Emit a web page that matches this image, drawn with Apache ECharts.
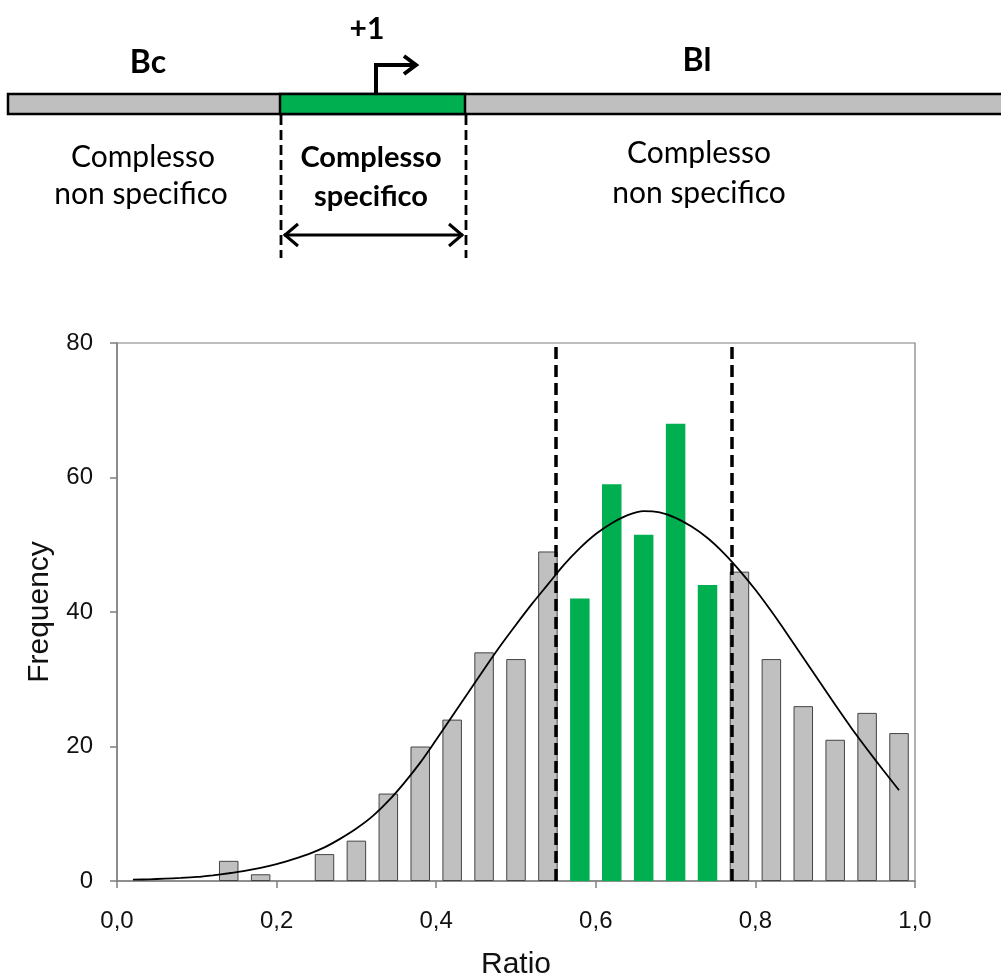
<!DOCTYPE html>
<html><head><meta charset="utf-8">
<script src="https://cdn.jsdelivr.net/npm/echarts@6/dist/echarts.min.js"></script>
<style>html,body{margin:0;padding:0;background:#fff}#c{width:1001px;height:975px}</style>
</head><body><div id="c"></div>
<script>
// Histogram bins (centre of each bin on the Ratio axis)
const grayCenters = [0.14,0.18,0.26,0.30,0.34,0.38,0.42,0.46,0.50,0.54,0.78,0.82,0.86,0.90,0.94,0.98];
const grayCounts  = [3,1,4,6,13,20,24,34,33,49,46,33,26,21,25,22];
const greenCenters = [0.58,0.62,0.66,0.70,0.74];
const greenCounts  = [42,59,51.5,68,44];
// Fitted curve, every 0.02
const curveX = [0.02,0.04,0.06,0.08,0.10,0.12,0.14,0.16,0.18,0.20,0.22,0.24,0.26,0.28,0.30,0.32,0.34,0.36,0.38,0.40,0.42,0.44,0.46,0.48,0.50,0.52,0.54,0.56,0.58,0.60,0.62,0.64,0.66,0.68,0.70,0.72,0.74,0.76,0.78,0.80,0.82,0.84,0.86,0.88,0.90,0.92,0.94,0.96,0.98];
const curveY = [0.2,0.25,0.35,0.45,0.6,0.85,1.15,1.5,1.95,2.5,3.2,4.0,5.0,6.3,7.8,9.6,11.9,14.6,17.6,21.0,24.5,28.0,31.5,34.9,38.1,41.2,44.1,47.0,49.5,51.6,53.2,54.4,55.0,54.8,54.0,52.7,51.0,48.8,46.2,43.3,40.1,36.7,33.2,29.7,26.2,22.8,19.6,16.5,13.5];
// Cut-offs of the specific complex region (dashed lines)
const cutoffs = [0.552, 0.768];
// Axis ticks
const xTickValues = [0, 0.2, 0.4, 0.6, 0.8, 1.0];
const xTickLabels = ['0,0','0,2','0,4','0,6','0,8','1,0'];
const yTickValues = [0, 20, 40, 60, 80];

const chart = echarts.init(document.getElementById('c'), null, {renderer:'canvas'});
const axisCol = '#7f7f7f';
const txtCol = '#111';
const F = 'Lato';

chart.setOption({
  animation: false,
  backgroundColor: '#fff',
  grid: {left: 117, right: 86, top: 343, bottom: 94, show: true, borderColor: axisCol, borderWidth: 1.2,
         containLabel: false, outerBoundsMode: 'none'},
  xAxis: {
    type: 'value', min: xTickValues[0], max: xTickValues[xTickValues.length-1], interval: 0.2,
    axisLine: {show: true, lineStyle: {color: axisCol, width: 1.5}},
    axisTick: {show: true, length: 7, lineStyle: {color: axisCol, width: 1.5}},
    splitLine: {show: false},
    axisLabel: {fontSize: 24, color: txtCol, fontFamily: 'Liberation Sans', margin: 28,
      formatter: v => { const i = xTickValues.findIndex(t => Math.abs(t - v) < 1e-6); return i >= 0 ? xTickLabels[i] : ''; }},
    name: 'Ratio', nameLocation: 'middle', nameGap: 69,
    nameTextStyle: {fontSize: 30, color: txtCol, fontFamily: 'Liberation Sans'}
  },
  yAxis: {
    type: 'value', min: yTickValues[0], max: yTickValues[yTickValues.length-1], interval: 20,
    axisLine: {show: true, lineStyle: {color: axisCol, width: 1.5}},
    axisTick: {show: true, length: 7, lineStyle: {color: axisCol, width: 1.5}},
    splitLine: {show: false},
    axisLabel: {fontSize: 24, color: txtCol, fontFamily: 'Liberation Sans', margin: 24},
    name: 'Frequency', nameLocation: 'middle', nameGap: 62, nameRotate: 90,
    nameTextStyle: {fontSize: 30, color: txtCol, fontFamily: 'Liberation Sans'}
  },
  series: [
    {type: 'bar', name: 'non specifico', barWidth: 19.5, barGap: '-100%', z: 2,
     data: grayCenters.map((x, i) => [x, grayCounts[i]]),
     itemStyle: {color: '#c0c0c0', borderColor: '#444', borderWidth: 1}},
    {type: 'bar', name: 'specifico', barWidth: 19.5, barGap: '-100%', z: 2,
     data: greenCenters.map((x, i) => [x, greenCounts[i]]),
     itemStyle: {color: '#00b050'},
     markLine: {silent: true, symbol: 'none', label: {show: false}, z: 5,
       lineStyle: {color: '#000', width: 3.5, type: [12, 6]},
       data: cutoffs.map(v => ({xAxis: v}))}},
    {type: 'line', name: 'fit', smooth: 0.3, symbol: 'none', z: 4,
     data: curveX.map((x, i) => [x, curveY[i]]),
     lineStyle: {color: '#000', width: 1.8}}
  ],
  graphic: {elements: [
    {type: 'rect', shape: {x: 8, y: 94, width: 1000, height: 20}, style: {fill: '#bfbfbf', stroke: '#000', lineWidth: 2.5}},
    {type: 'rect', shape: {x: 280, y: 94, width: 185, height: 20}, style: {fill: '#00b050', stroke: '#000', lineWidth: 2.5}},
    {type: 'polyline', shape: {points: [[376, 93], [376, 65], [415, 65]]}, style: {stroke: '#000', lineWidth: 4, fill: null}},
    {type: 'polyline', shape: {points: [[404, 56], [416, 65], [404, 74]]}, style: {stroke: '#000', lineWidth: 4, fill: null}},
    {type: 'line', shape: {x1: 281, y1: 115, x2: 281, y2: 258}, style: {stroke: '#000', lineWidth: 2.8, lineDash: [10, 5]}},
    {type: 'line', shape: {x1: 466, y1: 115, x2: 466, y2: 258}, style: {stroke: '#000', lineWidth: 2.8, lineDash: [10, 5]}},
    {type: 'line', shape: {x1: 284, y1: 235, x2: 463, y2: 235}, style: {stroke: '#000', lineWidth: 3}},
    {type: 'polyline', shape: {points: [[298, 224], [285, 235], [298, 246]]}, style: {stroke: '#000', lineWidth: 3, fill: null}},
    {type: 'polyline', shape: {points: [[449, 224], [462, 235], [449, 246]]}, style: {stroke: '#000', lineWidth: 3, fill: null}},
    {type: 'text', style: {text: '+1', x: 367, y: 29, align: 'center', verticalAlign: 'middle', font: 'bold 30px ' + F, fill: '#000'}},
    {type: 'text', style: {text: 'Bc', x: 148, y: 63, align: 'center', verticalAlign: 'middle', font: 'bold 32px ' + F, fill: '#000'}},
    {type: 'text', style: {text: 'Bl', x: 697, y: 61, align: 'center', verticalAlign: 'middle', font: 'bold 32px ' + F, fill: '#000'}},
    {type: 'text', style: {text: 'Complesso', x: 143, y: 157, align: 'center', verticalAlign: 'middle', font: '30px ' + F, fill: '#000'}},
    {type: 'text', style: {text: 'non specifico', x: 141, y: 194, align: 'center', verticalAlign: 'middle', font: '30px ' + F, fill: '#000'}},
    {type: 'text', style: {text: 'Complesso', x: 371, y: 158, align: 'center', verticalAlign: 'middle', font: 'bold 29px ' + F, fill: '#000'}},
    {type: 'text', style: {text: 'specifico', x: 371, y: 197, align: 'center', verticalAlign: 'middle', font: 'bold 29px ' + F, fill: '#000'}},
    {type: 'text', style: {text: 'Complesso', x: 699, y: 153, align: 'center', verticalAlign: 'middle', font: '30px ' + F, fill: '#000'}},
    {type: 'text', style: {text: 'non specifico', x: 699, y: 193, align: 'center', verticalAlign: 'middle', font: '30px ' + F, fill: '#000'}}
  ]}
});
</script></body></html>
